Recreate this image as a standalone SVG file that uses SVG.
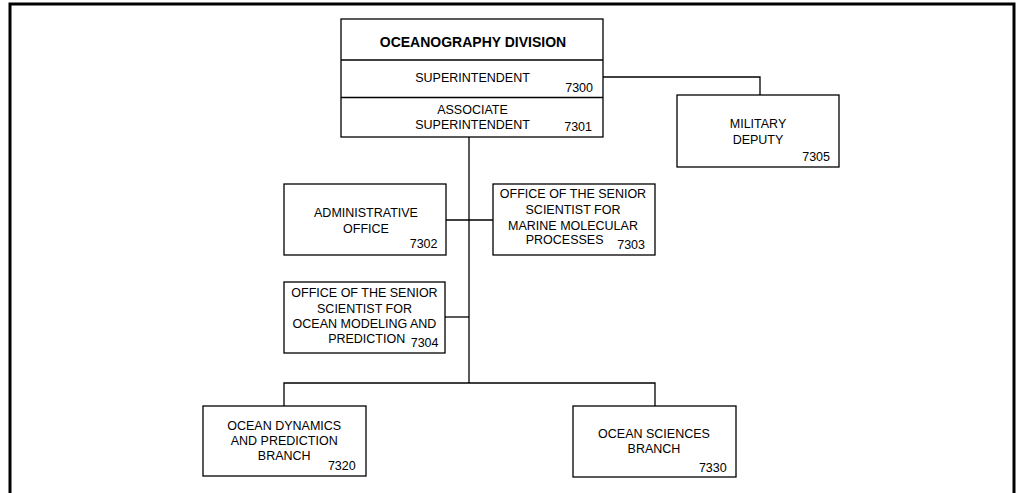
<svg xmlns="http://www.w3.org/2000/svg" width="1016" height="493" viewBox="0 0 1016 493">
<style>
.box{fill:#fff;stroke:#000;stroke-width:1.3}
.ln{fill:none;stroke:#000;stroke-width:1.3}
text{font-family:"Liberation Sans",Arial,sans-serif;font-size:12.5px;fill:#000}
.c{text-anchor:middle}
.n{text-anchor:end}
.t{font-weight:bold;font-size:14px}
</style>
<rect width="1016" height="493" fill="#fff"/>
<path d="M10,500 V4 H1014 V500" fill="none" stroke="#000" stroke-width="3"/>
<g id="connectors">
<path class="ln" d="M603,77 H760 V95"/>
<path class="ln" d="M469,137 V383"/>
<path class="ln" d="M446,220 H493"/>
<path class="ln" d="M445,317 H469"/>
<path class="ln" d="M284,406 V383 H655 V406"/>
</g>
<g id="division">
<rect class="box" x="341" y="19" width="262" height="118"/>
<line class="ln" x1="341" y1="60" x2="603" y2="60"/>
<line class="ln" x1="341" y1="97.5" x2="603" y2="97.5"/>
<text class="c t" x="473" y="47">OCEANOGRAPHY DIVISION</text>
<text class="c" x="472.5" y="82">SUPERINTENDENT</text>
<text class="n" x="593" y="92">7300</text>
<text class="c" x="472.5" y="113.5">ASSOCIATE</text>
<text class="c" x="472.5" y="129">SUPERINTENDENT</text>
<text class="n" x="592" y="131">7301</text>
</g>
<g id="n7305">
<rect class="box" x="677" y="95" width="162" height="72"/>
<text class="c" x="758" y="128">MILITARY</text>
<text class="c" x="758" y="143.5">DEPUTY</text>
<text class="n" x="830" y="161">7305</text>
</g>
<g id="n7302">
<rect class="box" x="284" y="184" width="162" height="71"/>
<text class="c" x="366" y="216.7">ADMINISTRATIVE</text>
<text class="c" x="366" y="232.7">OFFICE</text>
<text class="n" x="437.5" y="248.3">7302</text>
</g>
<g id="n7303">
<rect class="box" x="493" y="184" width="162" height="71"/>
<text class="c" x="573" y="198.3">OFFICE OF THE SENIOR</text>
<text class="c" x="573" y="214.3">SCIENTIST FOR</text>
<text class="c" x="573" y="230">MARINE MOLECULAR</text>
<text class="n" x="603.5" y="244.3">PROCESSES</text>
<text class="n" x="645" y="248.5">7303</text>
</g>
<g id="n7304">
<rect class="box" x="284" y="282" width="161" height="71"/>
<text class="c" x="364.5" y="296.7">OFFICE OF THE SENIOR</text>
<text class="c" x="364.5" y="312.7">SCIENTIST FOR</text>
<text class="c" x="364.5" y="328.3">OCEAN MODELING AND</text>
<text class="c" x="366.7" y="343.3">PREDICTION</text>
<text class="n" x="438.5" y="346.5">7304</text>
</g>
<g id="n7320">
<rect class="box" x="203" y="406" width="163" height="70"/>
<text class="c" x="284.2" y="430">OCEAN DYNAMICS</text>
<text class="c" x="284.2" y="445">AND PREDICTION</text>
<text class="c" x="284.2" y="460">BRANCH</text>
<text class="n" x="355.7" y="470">7320</text>
</g>
<g id="n7330">
<rect class="box" x="573" y="406" width="163" height="71"/>
<text class="c" x="654" y="437.7">OCEAN SCIENCES</text>
<text class="c" x="654" y="452.7">BRANCH</text>
<text class="n" x="726.7" y="471.7">7330</text>
</g>
</svg>
